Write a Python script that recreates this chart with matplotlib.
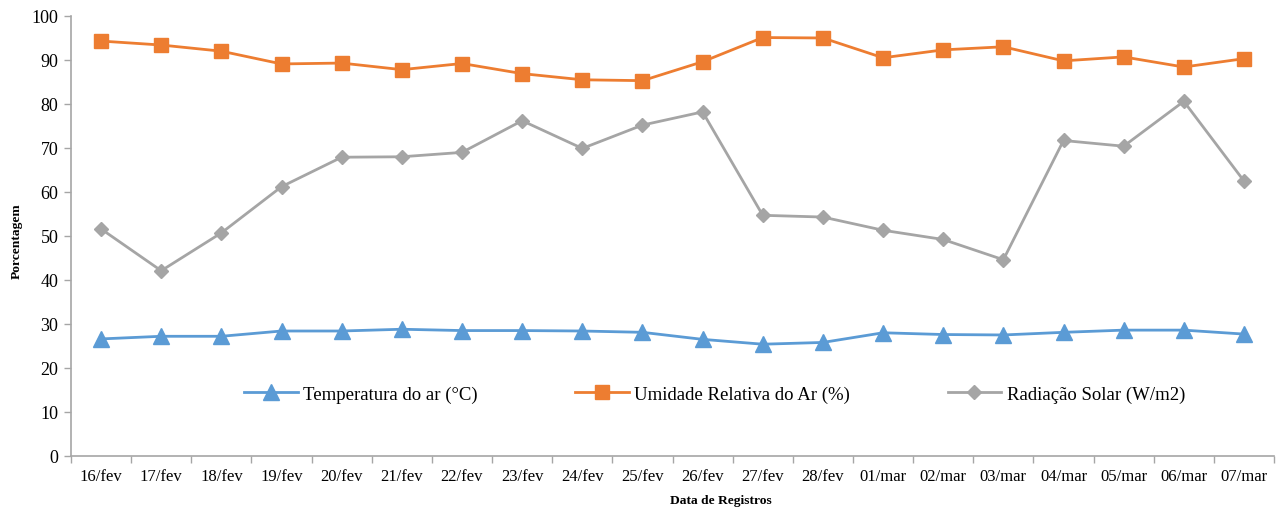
import numpy as np
import matplotlib.pyplot as plt

plt.rcParams['font.family'] = ['Liberation Serif', 'DejaVu Serif']

dates = ['16/fev', '17/fev', '18/fev', '19/fev', '20/fev', '21/fev', '22/fev',
         '23/fev', '24/fev', '25/fev', '26/fev', '27/fev', '28/fev', '01/mar',
         '02/mar', '03/mar', '04/mar', '05/mar', '06/mar', '07/mar']
temperatura = [26.6, 27.2, 27.2, 28.4, 28.4, 28.8, 28.5, 28.5, 28.4, 28.1,
               26.5, 25.4, 25.8, 28.0, 27.6, 27.5, 28.1, 28.6, 28.6, 27.7]
umidade = [94.3, 93.4, 92.0, 89.1, 89.3, 87.8, 89.2, 86.9, 85.5, 85.3,
           89.6, 95.1, 95.0, 90.5, 92.3, 93.0, 89.8, 90.7, 88.4, 90.3]
radiacao = [51.6, 42.1, 50.7, 61.2, 67.9, 68.0, 69.0, 76.2, 69.9, 75.2,
            78.2, 54.7, 54.3, 51.3, 49.2, 44.6, 71.7, 70.4, 80.6, 62.5]

x = np.arange(len(dates))
axis_color = '#a6a6a6'

fig = plt.figure(figsize=(12.86, 5.10), dpi=100)
ax = fig.add_axes([0.0552, 0.104, 0.9355, 0.8627])

ax.plot(x, temperatura, color='#5b9bd5', lw=2.0, marker='^', ms=11,
        label='Temperatura do ar (°C)')
ax.plot(x, umidade, color='#ed7d31', lw=2.0, marker='s', ms=10,
        label='Umidade Relativa do Ar (%)')
ax.plot(x, radiacao, color='#a5a5a5', lw=2.0, marker='D', ms=7.5,
        label='Radiação Solar (W/m2)')

ax.set_xlim(-0.5, len(dates) - 0.5)
ax.set_ylim(0, 100)
ax.set_yticks(range(0, 101, 10))
ax.set_xticks(x)
ax.set_xticklabels(dates)
ax.set_xticks(np.arange(-0.5, len(dates), 1), minor=True)
ax.tick_params(axis='x', which='major', length=0, pad=9, labelsize=12)
ax.tick_params(axis='x', which='minor', length=5, color=axis_color, width=1)
ax.tick_params(axis='y', length=5, color=axis_color, width=1, labelsize=13, pad=4)

for side in ['top', 'right']:
    ax.spines[side].set_visible(False)
for side in ['left', 'bottom']:
    ax.spines[side].set_color(axis_color)
    ax.spines[side].set_linewidth(1.2)

ax.set_xlabel('Data de Registros', fontsize=9.7, fontweight='bold')
ax.xaxis.set_label_coords(0.54, -0.087)
ax.set_ylabel('Porcentagem', fontsize=9.7, fontweight='bold')
ax.yaxis.set_label_coords(-0.040, 0.49)

ax.legend(loc='center', bbox_to_anchor=(0.535, 0.14), ncol=3, frameon=False,
          fontsize=13.5, columnspacing=5.2, handlelength=2.85, handletextpad=0.3)

fig.savefig('out.png', dpi=100)
